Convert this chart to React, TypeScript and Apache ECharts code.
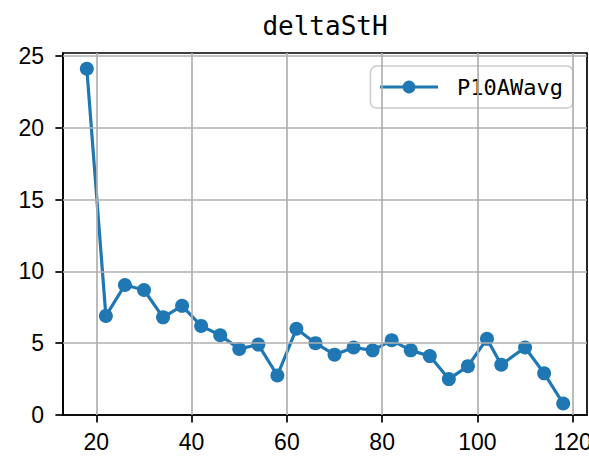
import React, { useEffect, useRef } from "react";
import * as echarts from "echarts";

const xValues = [18, 22, 26, 30, 34, 38, 42, 46, 50, 54, 58, 62, 66, 70, 74, 78, 82, 86, 90, 94, 98, 102, 105, 110, 114, 118];
const yValues = [24.1, 6.9, 9.05, 8.7, 6.8, 7.6, 6.2, 5.55, 4.6, 4.9, 2.75, 6.0, 5.0, 4.2, 4.7, 4.5, 5.2, 4.5, 4.1, 2.5, 3.4, 5.3, 3.5, 4.7, 2.9, 0.8];
const xTicks = [20, 40, 60, 80, 100, 120];
const yTicks = [0, 5, 10, 15, 20, 25];
const seriesName = "P10AWavg";
const titleText = "deltaStH";

export default function App() {
  const ref = useRef<HTMLDivElement>(null);
  useEffect(() => {
    if (!ref.current) return;
    const chart = echarts.init(ref.current, null, { renderer: "svg" });
    const tickFont = { fontFamily: "Liberation Sans", fontSize: 23, color: "#000" };
    const gridLine = { color: "#b0b0b0", width: 1.7, type: "solid" as const };
    chart.setOption({
      animation: false,
      backgroundColor: "#fff",
      grid: { left: 63, right: 2, top: 53, bottom: 53, show: true, borderColor: "#000", borderWidth: 1.7, containLabel: false, outerBoundsMode: "none" },
      graphic: [
        {
          type: "text",
          x: 325,
          y: 26,
          style: { text: titleText, fontFamily: "DejaVu Sans Mono", fontSize: 26, fill: "#000", align: "center", verticalAlign: "middle" },
        },
      ],
      legend: {
        right: 16,
        top: 66,
        orient: "vertical",
        padding: [10, 10, 10, 8],
        borderColor: "#cccccc",
        borderWidth: 1.5,
        borderRadius: 6,
        backgroundColor: "rgba(255,255,255,0.8)",
        itemWidth: 58,
        itemHeight: 16,
        lineStyle: { width: 3.2, color: "#1f77b4" },
        textStyle: { fontFamily: "DejaVu Sans Mono", fontSize: 22, color: "#000", padding: [0, 0, 0, 14] },
        data: [seriesName],
      },
      xAxis: {
        type: "value",
        min: 13,
        max: 123,
        axisLine: { show: true, lineStyle: { color: "#000", width: 1.7 } },
        axisTick: { show: true, length: 7.6, lineStyle: { color: "#000", width: 1.7 }, customValues: xTicks },
        axisLabel: { ...tickFont, margin: 15, customValues: xTicks },
        splitLine: { show: false },
      },
      yAxis: {
        type: "value",
        min: 0,
        max: 25.2,
        axisLine: { show: true, lineStyle: { color: "#000", width: 1.7 } },
        axisTick: { show: true, length: 7.6, lineStyle: { color: "#000", width: 1.7 }, customValues: yTicks },
        axisLabel: { ...tickFont, margin: 19, customValues: yTicks },
        splitLine: { show: false },
      },
      series: [
        {
          type: "line",
          name: "__grid",
          data: [],
          z: 1,
          silent: true,
          markLine: {
            silent: true,
            symbol: ["none", "none"],
            label: { show: false },
            lineStyle: gridLine,
            emphasis: { disabled: true },
            data: [
              ...xTicks.map((v) => ({ xAxis: v })),
              ...yTicks.filter((v) => v > 0).map((v) => ({ yAxis: v })),
            ],
          },
        },
        {
          type: "line",
          name: seriesName,
          z: 3,
          data: xValues.map((x, i) => [x, yValues[i]]),
          symbol: "circle",
          symbolSize: 14,
          showAllSymbol: true,
          itemStyle: { color: "#1f77b4" },
          lineStyle: { color: "#1f77b4", width: 3.2 },
        },
      ],
    });
    return () => chart.dispose();
  }, []);
  return <div ref={ref} style={{ position: "fixed", left: 0, top: 0, width: 589, height: 468 }} />;
}
